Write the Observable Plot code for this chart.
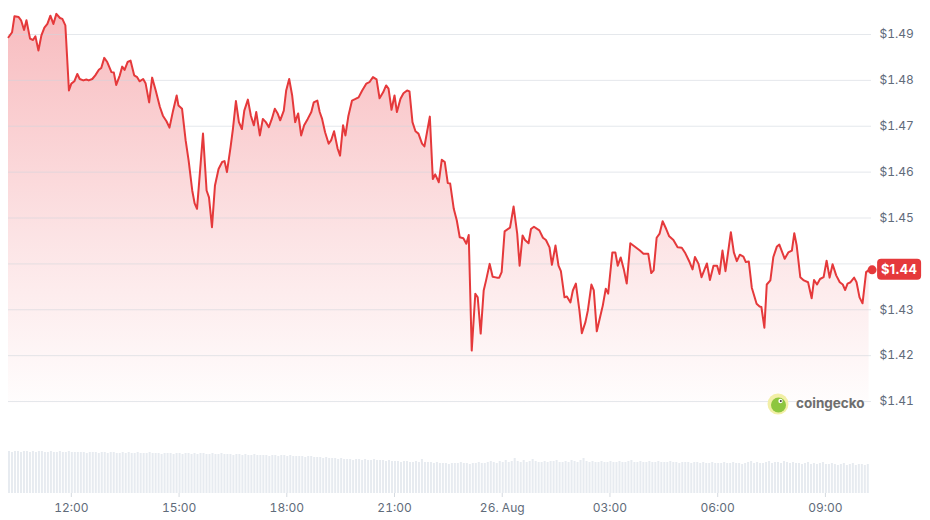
<!DOCTYPE html>
<html><head><meta charset="utf-8">
<script src="https://cdn.jsdelivr.net/npm/d3@7"></script>
<script src="https://cdn.jsdelivr.net/npm/@observablehq/plot@0.6"></script>
<style>
body{margin:0;background:#fff;font-family:Inter,sans-serif}
#wrap{position:relative;width:930px;height:520px;overflow:hidden;background:#fff}
#wrap svg{display:block}
</style></head><body><div id="wrap"></div>
<script>
// ---- data ----
const startUTC = Date.UTC(2024, 7, 25, 10, 15);   // first sample: 25 Aug 10:15
const endMinute = 1442;                            // right edge of the plot, minutes after start
// sample times, minutes after start
const minutes = [0,6,10,17,21,26,30,36,41,45,50,55,60,65,70,75,80,86,90,95,101,105,110,115,119,125,130,134,140,145,151,155,160,165,172,176,180,186,190,194,199,204,210,215,219,225,229,235,240,246,253,258,264,269,275,281,284,290,296,301,307,311,315,321,325,331,335,340,345,351,357,361,365,371,375,380,385,390,394,400,405,410,414,420,425,430,435,440,445,450,454,460,464,469,474,479,484,489,494,500,506,510,516,520,524,529,535,539,544,550,554,559,563,568,574,579,585,591,598,603,609,615,620,626,631,635,640,645,649,655,660,666,670,675,680,685,691,695,704,709,713,719,724,729,734,738,744,749,754,760,765,769,774,780,784,789,794,798,804,809,816,820,824,829,838,844,850,854,859,863,869,873,878,887,893,898,904,908,914,919,923,929,933,939,943,948,954,958,964,968,974,978,983,989,993,998,1002,1009,1014,1018,1023,1028,1033,1039,1044,1055,1061,1069,1074,1078,1083,1088,1093,1099,1104,1111,1118,1125,1131,1138,1143,1147,1153,1158,1167,1172,1178,1184,1188,1193,1198,1207,1212,1217,1222,1228,1232,1237,1242,1250,1255,1258,1263,1267,1273,1278,1284,1288,1297,1303,1309,1313,1317,1323,1329,1336,1342,1346,1351,1356,1362,1367,1372,1377,1383,1389,1394,1398,1402,1407,1413,1417,1422,1427,1433,1438];
// price in USD
const prices = [
1.4894,1.4905,1.4940,1.4938,1.4931,1.4910,1.4931,1.4891,1.4888,1.4896,
1.4865,1.4898,1.4915,1.4923,1.4941,1.4923,1.4945,1.4936,1.4934,1.4920,
1.4778,1.4793,1.4798,1.4814,1.4803,1.4800,1.4802,1.4800,1.4803,1.4811,
1.4823,1.4827,1.4849,1.4840,1.4818,1.4817,1.4790,1.4811,1.4830,1.4823,
1.4840,1.4843,1.4811,1.4807,1.4798,1.4803,1.4794,1.4752,1.4806,1.4778,
1.4742,1.4723,1.4711,1.4697,1.4734,1.4767,1.4745,1.4738,1.4669,1.4625,
1.4560,1.4532,1.4520,1.4618,1.4684,1.4560,1.4545,1.4480,1.4571,1.4607,
1.4622,1.4624,1.4600,1.4654,1.4694,1.4755,1.4709,1.4694,1.4734,1.4758,
1.4723,1.4702,1.4731,1.4680,1.4716,1.4709,1.4698,1.4716,1.4738,1.4727,
1.4713,1.4734,1.4778,1.4803,1.4767,1.4709,1.4728,1.4680,1.4702,1.4716,
1.4731,1.4752,1.4756,1.4731,1.4716,1.4687,1.4662,1.4669,1.4689,1.4651,
1.4636,1.4702,1.4680,1.4723,1.4756,1.4759,1.4763,1.4778,1.4793,1.4796,
1.4807,1.4802,1.4761,1.4774,1.4789,1.4782,1.4736,1.4767,1.4731,1.4760,
1.4772,1.4778,1.4776,1.4709,1.4689,1.4684,1.4662,1.4656,1.4721,1.4585,
1.4595,1.4578,1.4627,1.4622,1.4576,1.4575,1.4520,1.4495,1.4458,1.4456,
1.4444,1.4463,1.4211,1.4335,1.4327,1.4248,1.4342,1.4364,1.4400,1.4372,
1.4370,1.4370,1.4382,1.4471,1.4479,1.4525,1.4466,1.4396,1.4462,1.4452,
1.4445,1.4476,1.4481,1.4473,1.4457,1.4452,1.4436,1.4398,1.4440,1.4396,
1.4384,1.4327,1.4329,1.4316,1.4342,1.4357,1.4298,1.4249,1.4273,1.4298,
1.4355,1.4342,1.4253,1.4287,1.4309,1.4346,1.4335,1.4425,1.4425,1.4396,
1.4414,1.4389,1.4357,1.4445,1.4440,1.4429,1.4422,1.4422,1.4380,1.4386,
1.4457,1.4466,1.4493,1.4476,1.4460,1.4452,1.4436,1.4435,1.4423,1.4404,
1.4388,1.4415,1.4400,1.4371,1.4401,1.4365,1.4396,1.4396,1.4378,1.4429,
1.4384,1.4469,1.4425,1.4406,1.4420,1.4416,1.4404,1.4405,1.4348,1.4313,
1.4307,1.4306,1.4261,1.4355,1.4364,1.4415,1.4438,1.4442,1.4411,1.4425,
1.4429,1.4467,1.4440,1.4371,1.4364,1.4360,1.4325,1.4365,1.4355,1.4367,
1.4371,1.4407,1.4370,1.4399,1.4375,1.4360,1.4355,1.4343,1.4357,1.4360,
1.4370,1.4360,1.4327,1.4314,1.4382,1.4387];
// 5-minute volume bars (relative units)
const volumeStep = 5;
const volumes = [
42,41,42,42,41,42,42,41,42,41,42,42,41,41,42,41,41,42,41,41,42,41,41,41,
41,41,40,41,41,41,40,41,41,40,41,41,40,40,41,40,41,40,40,41,40,40,40,41,
40,40,40,39,40,40,40,39,40,40,39,40,40,39,40,39,40,40,39,39,40,39,39,40,
39,39,39,38,39,39,38,39,38,38,39,38,38,38,38,37,38,38,37,38,38,37,38,37,
37,37,37,36,37,37,36,36,36,35,36,35,35,35,34,35,34,34,34,33,34,34,33,34,
33,33,34,33,33,33,32,33,32,32,32,31,32,32,31,31,32,31,34,31,31,31,30,31,
30,30,30,29,30,30,30,31,30,30,29,30,30,31,30,30,31,32,31,30,32,31,33,31,
32,35,32,31,33,31,32,34,32,31,31,32,31,32,32,33,31,31,32,31,33,32,31,33,
35,32,31,32,31,31,32,31,31,32,31,31,32,31,31,32,33,31,31,32,31,31,32,31,
31,32,31,31,31,32,31,31,30,31,31,31,30,31,31,30,31,30,30,31,30,30,30,31,
30,30,31,30,30,29,30,31,32,30,31,30,30,31,32,30,31,31,30,32,31,30,31,30,
30,29,30,31,29,30,29,30,31,29,29,30,29,28,29,30,28,29,30,28,29,29,28,29];
const yTicks = [1.41, 1.42, 1.43, 1.44, 1.45, 1.46, 1.47, 1.48, 1.49];
const tickTimes = ["2024-08-25T12:00Z","2024-08-25T15:00Z","2024-08-25T18:00Z","2024-08-25T21:00Z","2024-08-26T00:00Z","2024-08-26T03:00Z","2024-08-26T06:00Z","2024-08-26T09:00Z"];
const tickLabels = ["12:00","15:00","18:00","21:00","26. Aug","03:00","06:00","09:00"];
const lastLabel = "$1.44";
const brand = "coingecko";

// ---- build ----
const RED = "#e5393b";
const GREY = "#5f6b7a";
const toDate = m => new Date(startUTC + m * 60000);
const priceData = minutes.map((m, i) => ({t: toDate(m), p: prices[i]}));
const volData = volumes.map((v, i) => ({t0: toDate(i * volumeStep), t1: toDate((i + 1) * volumeStep), v}));
const xDomain = [toDate(0), toDate(endMinute)];
const ticks = tickTimes.map(s => new Date(s));
const labelOf = new Map(ticks.map((d, i) => [+d, tickLabels[i]]));
const last = priceData[priceData.length - 1];
const fmtPrice = d => "$" + d.toFixed(2);
// the axis label hidden under the last-price badge is left out
const yLabelTicks = yTicks.filter(d => fmtPrice(d) !== lastLabel);
const style = {fontFamily: "Inter, sans-serif", fontSize: "12px", color: GREY, background: "transparent", overflow: "visible"};

const gradDefs = () => {
  const ns = "http://www.w3.org/2000/svg";
  const defs = document.createElementNS(ns, "defs");
  defs.innerHTML = '<linearGradient id="pg" x1="0" y1="0" x2="0" y2="1">' +
    '<stop offset="0" stop-color="#ea3943" stop-opacity="0.34"/>' +
    '<stop offset="0.6" stop-color="#ea3943" stop-opacity="0.13"/>' +
    '<stop offset="1" stop-color="#ea3943" stop-opacity="0.01"/></linearGradient>';
  return defs;
};

const priceChart = Plot.plot({
  width: 930, height: 430,
  marginLeft: 8, marginRight: 59, marginTop: 34, marginBottom: 29,
  style,
  x: {type: "utc", domain: xDomain, axis: null},
  y: {domain: [1.41, 1.49]},
  marks: [
    gradDefs,
    Plot.areaY(priceData, {x: "t", y1: 1.4095, y2: "p", fill: "url(#pg)"}),
    Plot.gridY(yTicks, {stroke: "#cfd5dc", strokeOpacity: 0.55}),
    Plot.axisY(yLabelTicks, {anchor: "right", label: null, tickSize: 0, tickPadding: 8, tickFormat: fmtPrice, fill: GREY}),
    Plot.lineY(priceData, {x: "t", y: "p", stroke: RED, strokeWidth: 2, strokeLinejoin: "round"}),
    Plot.dot([last], {x: "t", y: "p", r: 4.5, fill: RED, dx: 3})
  ]
});

// last-price badge, positioned with the chart's own scales
const xl = priceChart.scale("x").apply(last.t), yl = priceChart.scale("y").apply(last.p);
const badge = d3.select(priceChart).append("g");
badge.append("rect").attr("x", xl + 8.5).attr("y", yl - 10.5).attr("width", 44).attr("height", 21).attr("rx", 4).attr("fill", RED);
badge.append("text").attr("x", xl + 30.5).attr("y", yl).attr("dy", "0.36em").attr("text-anchor", "middle")
  .attr("fill", "#fff").attr("font-weight", 700).attr("font-size", 13).attr("font-family", "Inter, sans-serif").text(lastLabel);

// watermark
const wm = d3.select(priceChart).append("g").attr("transform", "translate(778,404)");
wm.append("circle").attr("r", 10.5).attr("fill", "#f2efa6");
wm.append("circle").attr("cx", 0.5).attr("cy", 1).attr("r", 7.5).attr("fill", "#8dc63f");
wm.append("circle").attr("cx", 2.5).attr("cy", -3).attr("r", 2.2).attr("fill", "#fff");
wm.append("circle").attr("cx", 2.8).attr("cy", -3).attr("r", 1).attr("fill", "#3a3a3a");
wm.append("text").attr("x", 18).attr("y", 0).attr("dy", "0.32em").attr("text-anchor", "start").attr("fill", "#6e6e6e")
  .attr("font-family", "Inter, sans-serif").attr("font-weight", 700).attr("font-size", 13.5).text(brand);

const volumeChart = Plot.plot({
  width: 930, height: 90,
  marginLeft: 8, marginRight: 59, marginTop: 21, marginBottom: 27,
  style,
  x: {type: "utc", domain: xDomain},
  y: {domain: [0, 42], axis: null},
  marks: [
    Plot.rectY(volData, {x1: "t0", x2: "t1", y: "v", fill: "#e7ebf0", insetRight: 1}),
    Plot.axisX(ticks, {label: null, tickSize: 4, tickPadding: 6, tickFormat: d => labelOf.get(+d), stroke: "#d5dae0", fill: GREY})
  ]
});

const wrap = document.getElementById("wrap");
wrap.appendChild(priceChart);
wrap.appendChild(volumeChart);
if (minutes.length !== prices.length) {
  const w = document.createElement("div");
  w.textContent = "LENGTH MISMATCH " + minutes.length + " vs " + prices.length;
  w.style.cssText = "position:absolute;left:10px;top:10px;color:blue";
  wrap.appendChild(w);
}
</script></body></html>
